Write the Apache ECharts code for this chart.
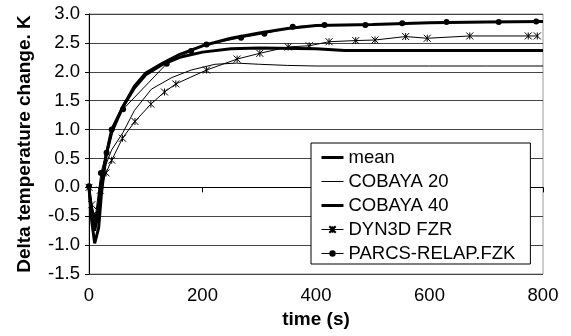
<!DOCTYPE html>
<html>
<head>
<meta charset="utf-8">
<script src="https://cdn.jsdelivr.net/npm/echarts@6/dist/echarts.min.js"></script>
<style>
  html, body { margin: 0; padding: 0; background: #fff; }
  #chart { width: 571px; height: 336px; }
</style>
</head>
<body>
<div id="chart"></div>
<script>
// values (time in s, delta temperature in K)
const meanT = [0, 5, 10, 15, 20, 30, 40, 60, 80, 100, 130, 160, 200, 250, 300, 400, 450, 500, 600, 700, 800]
const meanV = [0, -0.5, -0.75, -0.5, 0.0, 0.55, 0.95, 1.4, 1.72, 1.95, 2.13, 2.25, 2.34, 2.4, 2.41, 2.4, 2.37, 2.37, 2.37, 2.37, 2.37]

const cob20T = [0, 5, 10, 15, 20, 30, 40, 60, 80, 110, 146, 180, 222, 260, 300, 350, 400, 500, 600, 700, 800]
const cob20V = [0, -0.35, -0.6, -0.4, 0.0, 0.4, 0.65, 0.95, 1.33, 1.7, 1.9, 2.03, 2.13, 2.15, 2.13, 2.11, 2.1, 2.1, 2.1, 2.1, 2.1]

const cob40T = [0, 5, 10, 13, 17, 22, 30, 40, 60, 80, 100, 130, 160, 200, 250, 300, 350, 400, 500, 600, 700, 800]
const cob40V = [0, -0.6, -0.97, -1.0, -0.7, -0.1, 0.55, 1.0, 1.4, 1.75, 1.98, 2.15, 2.3, 2.45, 2.58, 2.67, 2.75, 2.8, 2.82, 2.85, 2.86, 2.87]

const dynT = [0, 5, 10, 15, 20, 30, 40, 59, 81, 109, 133, 153, 207, 261, 301, 351, 388, 423, 470, 504, 558, 596, 671, 774, 790]
const dynV = [0, -0.3, -0.5, -0.4, -0.05, 0.25, 0.47, 0.85, 1.14, 1.44, 1.65, 1.79, 2.03, 2.22, 2.32, 2.43, 2.45, 2.52, 2.54, 2.55, 2.61, 2.58, 2.62, 2.62, 2.62]

const parcsT = [0, 10, 21, 31, 40, 60, 137, 180, 207, 268, 309, 359, 415, 487, 552, 630, 722, 788]
const parcsV = [0.02, -0.6, 0.25, 0.6, 1.0, 1.35, 2.14, 2.36, 2.47, 2.59, 2.66, 2.78, 2.81, 2.81, 2.84, 2.86, 2.86, 2.87]

const xTicks = [0, 200, 400, 600, 800]
const legendNames = ['mean', 'COBAYA 20', 'COBAYA 40', 'DYN3D FZR', 'PARCS-RELAP.FZK']
const lineWidths = [3, 1, 3, 1, 1]

const pairs = (t, v) => t.map((x, i) => [x, v[i]])
const FONT = '"Liberation Sans", Arial, sans-serif'
const ASTERISK = 'path://M0,0L10,10M10,0L0,10M5,0L5,10'
// lines without markers: hide the legend symbol, keep the line
const lineOnly = ['mean', 'COBAYA 20', 'COBAYA 40']

const chart = echarts.init(document.getElementById('chart'), null, { renderer: 'canvas' })

chart.setOption({
    animation: false,
    backgroundColor: '#fff',
    grid: { left: 89, top: 14, right: 28, bottom: 62, show: true, borderColor: '#999', borderWidth: 1 },
    xAxis: {
        type: 'value', min: 0, max: 800, interval: 200,
        name: 'time (s)', nameLocation: 'middle', nameGap: 33,
        nameTextStyle: { fontFamily: FONT, fontSize: 19, fontWeight: 'bold', color: '#000' },
        axisLine: { show: true, lineStyle: { color: '#000', width: 1 } },
        axisTick: { show: true, length: 5, lineStyle: { color: '#000' } },
        axisLabel: { fontFamily: FONT, fontSize: 18.5, color: '#000', margin: 12,
            formatter: v => xTicks.includes(v) ? String(v) : '' },
        splitLine: { show: false },
    },
    yAxis: {
        type: 'value', min: -1.5, max: 3.0, interval: 0.5,
        name: 'Delta temperature change. K', nameLocation: 'middle', nameGap: 55,
        nameTextStyle: { fontFamily: FONT, fontSize: 19, fontWeight: 'bold', color: '#000' },
        axisLine: { show: true, lineStyle: { color: '#000', width: 1 } },
        axisTick: { show: true, length: 4, lineStyle: { color: '#000' } },
        axisLabel: { fontFamily: FONT, fontSize: 18.5, color: '#000', margin: 9,
            formatter: v => v.toFixed(1) },
        splitLine: { show: true, lineStyle: { color: '#444', width: 1 } },
    },
    legend: {
        orient: 'vertical', left: 311, top: 143,
        backgroundColor: '#fff', borderColor: '#000', borderWidth: 1, borderRadius: 0,
        padding: [5, 15, 1, 9], itemGap: 5, itemWidth: 22, itemHeight: 8,
        textStyle: { fontFamily: FONT, fontSize: 18.5, color: '#000' },
        data: legendNames.map((n, i) => ({
            name: n,
            lineStyle: { width: lineWidths[i] },
            itemStyle: lineOnly.includes(n) ? { opacity: 0 } : {},
        })),
    },
    series: [
        { name: 'mean', type: 'line', data: pairs(meanT, meanV), symbol: 'none',
          lineStyle: { color: '#000', width: 3 }, itemStyle: { color: '#000' }, z: 3 },
        { name: 'COBAYA 20', type: 'line', data: pairs(cob20T, cob20V), symbol: 'none',
          lineStyle: { color: '#000', width: 1 }, itemStyle: { color: '#000' }, z: 3 },
        { name: 'COBAYA 40', type: 'line', data: pairs(cob40T, cob40V), symbol: 'none',
          lineStyle: { color: '#000', width: 3 }, itemStyle: { color: '#000' }, z: 3 },
        { name: 'DYN3D FZR', type: 'line', data: pairs(dynT, dynV), symbol: ASTERISK, symbolSize: 7,
          lineStyle: { color: '#000', width: 1 },
          itemStyle: { color: '#000', borderColor: '#000', borderWidth: 1 }, z: 4 },
        { name: 'PARCS-RELAP.FZK', type: 'line', data: pairs(parcsT, parcsV), symbol: 'circle', symbolSize: 6,
          lineStyle: { color: '#000', width: 1 }, itemStyle: { color: '#000' }, z: 4 },
    ],
})
</script>
</body>
</html>
